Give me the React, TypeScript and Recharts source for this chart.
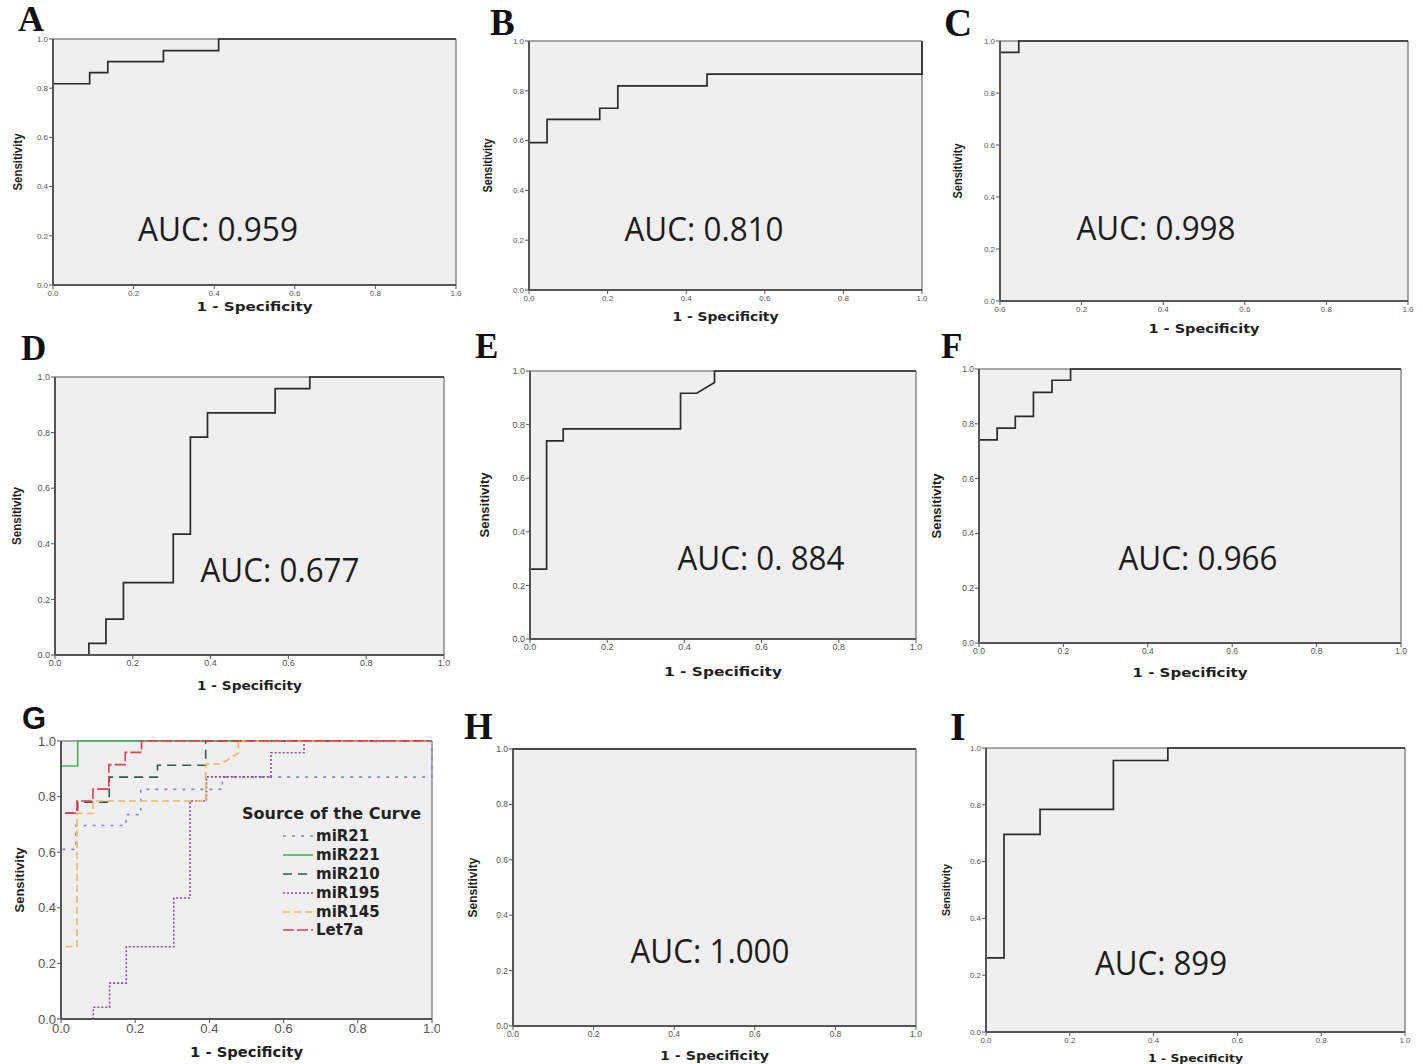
import React from 'react';
import { LineChart, Line, XAxis, YAxis, CartesianGrid, ReferenceLine, Legend } from 'recharts';

// ---------- data (ROC curve corner points: 1 - specificity, sensitivity) ----------
const AXIS_TICKS = [0, 0.2, 0.4, 0.6, 0.8, 1.0];

const A_FPR = [0, 0, 0.091, 0.091, 0.136, 0.136, 0.274, 0.274, 0.411, 0.411, 1];
const A_TPR = [0, 0.818, 0.818, 0.863, 0.863, 0.908, 0.908, 0.953, 0.953, 1, 1];

const B_FPR = [0, 0, 0.046, 0.046, 0.18, 0.18, 0.226, 0.226, 0.453, 0.453, 1, 1];
const B_TPR = [0, 0.592, 0.592, 0.685, 0.685, 0.73, 0.73, 0.82, 0.82, 0.867, 0.867, 1];

const C_FPR = [0, 0, 0.046, 0.046, 1];
const C_TPR = [0, 0.956, 0.956, 1, 1];

const D_FPR = [0, 0.087, 0.087, 0.131, 0.131, 0.176, 0.176, 0.304, 0.304, 0.348, 0.348, 0.392, 0.392, 0.566, 0.566, 0.655, 0.655, 1];
const D_TPR = [0, 0, 0.042, 0.042, 0.129, 0.129, 0.26, 0.26, 0.435, 0.435, 0.784, 0.784, 0.871, 0.871, 0.958, 0.958, 1, 1];

const E_FPR = [0, 0, 0.043, 0.043, 0.086, 0.086, 0.39, 0.39, 0.432, 0.478, 0.478, 1];
const E_TPR = [0, 0.261, 0.261, 0.739, 0.739, 0.784, 0.784, 0.917, 0.917, 0.957, 1, 1];

const F_FPR = [0, 0, 0.043, 0.043, 0.086, 0.086, 0.129, 0.129, 0.173, 0.173, 0.217, 0.217, 1];
const F_TPR = [0, 0.741, 0.741, 0.784, 0.784, 0.827, 0.827, 0.915, 0.915, 0.959, 0.959, 1, 1];

const H_FPR = [0, 0, 1];
const H_TPR = [0, 1, 1];

const I_FPR = [0, 0, 0.043, 0.043, 0.129, 0.129, 0.304, 0.304, 0.434, 0.434, 1];
const I_TPR = [0, 0.261, 0.261, 0.696, 0.696, 0.784, 0.784, 0.956, 0.956, 1, 1];

// panel G (combined)
const G_MIR21_FPR = [0, 0, 0.04, 0.04, 0.175, 0.175, 0.215, 0.215, 0.435, 0.435, 1, 1];
const G_MIR21_TPR = [0, 0.61, 0.61, 0.696, 0.696, 0.735, 0.735, 0.826, 0.826, 0.87, 0.87, 1];
const G_MIR221_FPR = [0, 0, 0.045, 0.045, 1];
const G_MIR221_TPR = [0, 0.91, 0.91, 1, 1];
const G_MIR210_FPR = [0, 0, 0.045, 0.045, 0.13, 0.13, 0.26, 0.26, 0.39, 0.39, 1];
const G_MIR210_TPR = [0, 0.74, 0.74, 0.78, 0.78, 0.87, 0.87, 0.913, 0.913, 1, 1];
const G_MIR195_FPR = D_FPR;
const G_MIR195_TPR = D_TPR;
const G_MIR145_FPR = E_FPR;
const G_MIR145_TPR = E_TPR;
const G_LET7A_FPR = F_FPR;
const G_LET7A_TPR = F_TPR;

const G_SERIES_NAMES = ['miR21', 'miR221', 'miR210', 'miR195', 'miR145', 'Let7a'];

const AUC_TEXTS = ['AUC: 0.959', 'AUC: 0.810', 'AUC: 0.998', 'AUC: 0.677', 'AUC: 0. 884', 'AUC: 0.966', 'AUC: 1.000', 'AUC: 899'];
const PANEL_LETTERS = ['A', 'B', 'C', 'D', 'E', 'F', 'G', 'H', 'I'];

// ---------- styles ----------
const SERIES_STYLE: Record<string, { color: string; dash: string; width: number }> = {
  miR21: { color: '#7f88c6', dash: '3 6', width: 1.6 },
  miR221: { color: '#4fb25a', dash: '', width: 1.6 },
  miR210: { color: '#36594a', dash: '9 6', width: 1.6 },
  miR195: { color: '#8e4a9e', dash: '2 2', width: 1.6 },
  miR145: { color: '#f3b45c', dash: '7 4', width: 1.6 },
  Let7a: { color: '#e6404c', dash: '11 3', width: 1.6 },
};

const toPoints = (fpr: number[], tpr: number[]) => fpr.map((x, i) => ({ x, y: tpr[i] }));

type Curve = { name: string; fpr: number[]; tpr: number[]; color: string; dash: string; width: number };

type PanelCfg = {
  L: number; R: number; T: number; B: number;
  tickFont: number;
  xTitleOff: number; xTitleLen: number; xTitleSize: number;
  yTitleOff: number; yTitleLen: number; yTitleSize: number;
  curves: Curve[];
  legend?: { left: number; top: number };
};

const blackCurve = (name: string, fpr: number[], tpr: number[]): Curve => ({ name, fpr, tpr, color: '#2b2b2b', dash: '', width: 1.7 });

const gCurves: Curve[] = [
  [G_MIR21_FPR, G_MIR21_TPR],
  [G_MIR221_FPR, G_MIR221_TPR],
  [G_MIR210_FPR, G_MIR210_TPR],
  [G_MIR195_FPR, G_MIR195_TPR],
  [G_MIR145_FPR, G_MIR145_TPR],
  [G_LET7A_FPR, G_LET7A_TPR],
].map(([f, t], i) => {
  const name = G_SERIES_NAMES[i];
  const st = SERIES_STYLE[name];
  return { name, fpr: f, tpr: t, color: st.color, dash: st.dash, width: st.width };
});

const PANELS: PanelCfg[] = [
  { L: 53, R: 456, T: 39, B: 285, tickFont: 8, xTitleOff: 26, xTitleLen: 116, xTitleSize: 12, yTitleOff: -31, yTitleLen: 57, yTitleSize: 12, curves: [blackCurve('A', A_FPR, A_TPR)] },
  { L: 529, R: 922, T: 41, B: 290, tickFont: 8, xTitleOff: 31, xTitleLen: 106, xTitleSize: 12, yTitleOff: -37, yTitleLen: 54, yTitleSize: 12, curves: [blackCurve('B', B_FPR, B_TPR)] },
  { L: 1000, R: 1408, T: 41, B: 301, tickFont: 8, xTitleOff: 32, xTitleLen: 111, xTitleSize: 12, yTitleOff: -38, yTitleLen: 55, yTitleSize: 12, curves: [blackCurve('C', C_FPR, C_TPR)] },
  { L: 55, R: 444, T: 377, B: 655, tickFont: 9, xTitleOff: 35, xTitleLen: 105, xTitleSize: 12, yTitleOff: -34, yTitleLen: 58, yTitleSize: 12, curves: [blackCurve('D', D_FPR, D_TPR)] },
  { L: 530, R: 916, T: 371, B: 639, tickFont: 9, xTitleOff: 37, xTitleLen: 118, xTitleSize: 12, yTitleOff: -41, yTitleLen: 65, yTitleSize: 13, curves: [blackCurve('E', E_FPR, E_TPR)] },
  { L: 979, R: 1401, T: 369, B: 643, tickFont: 8.5, xTitleOff: 34, xTitleLen: 115, xTitleSize: 12, yTitleOff: -38, yTitleLen: 65, yTitleSize: 13, curves: [blackCurve('F', F_FPR, F_TPR)] },
  { L: 61, R: 432, T: 741, B: 1019, tickFont: 13, xTitleOff: 38, xTitleLen: 113, xTitleSize: 14, yTitleOff: -37, yTitleLen: 65, yTitleSize: 13, curves: gCurves, legend: { left: 242, top: 804 } },
  { L: 513, R: 916, T: 749, B: 1026, tickFont: 8.5, xTitleOff: 34, xTitleLen: 109, xTitleSize: 12, yTitleOff: -36, yTitleLen: 60, yTitleSize: 12, curves: [blackCurve('H', H_FPR, H_TPR)] },
  { L: 986, R: 1405, T: 748, B: 1032, tickFont: 8, xTitleOff: 30, xTitleLen: 95, xTitleSize: 11, yTitleOff: -36, yTitleLen: 52, yTitleSize: 11, curves: [blackCurve('I', I_FPR, I_TPR)] },
];

// annotation layout (page coordinates)
const AUC_POS = [
  { cx: 218, base: 240.5, len: 160 },
  { cx: 704, base: 240.5, len: 159 },
  { cx: 1156, base: 240, len: 159 },
  { cx: 280, base: 581.5, len: 159 },
  { cx: 761, base: 569.5, len: 167 },
  { cx: 1198, base: 569.5, len: 159 },
  { cx: 710, base: 963, len: 159 },
  { cx: 1161, base: 975, len: 132 },
];
const AUC_PANEL_IDX = [0, 1, 2, 3, 4, 5, 7, 8];

const LETTER_POS = [
  { x: 18, base: 31, size: 36, serif: true },
  { x: 490, base: 35, size: 37, serif: true },
  { x: 944, base: 36, size: 39, serif: true },
  { x: 21, base: 360, size: 35, serif: true },
  { x: 475, base: 358, size: 35, serif: true },
  { x: 941, base: 358, size: 35, serif: true },
  { x: 22, base: 729, size: 31, serif: false },
  { x: 464, base: 739, size: 37, serif: true },
  { x: 950, base: 739.5, size: 40, serif: true },
];

const ML = 62, MT = 8, MR = 8, XH = 46;

const fmt = (v: number) => v.toFixed(1);

function GLegend(props: any) {
  const raw: any[] = props.payload || [];
  const payload = [...raw].sort((a, b) => G_SERIES_NAMES.indexOf(a.value) - G_SERIES_NAMES.indexOf(b.value));
  return (
    <div style={{ fontFamily: '"DejaVu Sans", Verdana, sans-serif', fontWeight: 'bold', color: '#222', width: 200 }}>
      <div style={{ fontSize: 16, height: 23, lineHeight: '20px', whiteSpace: 'nowrap' }}>Source of the Curve</div>
      {payload.map((entry: any) => {
        const st = SERIES_STYLE[entry.value] || { color: entry.color, dash: '', width: 1.6 };
        return (
          <div key={entry.value} style={{ height: 18.8, display: 'flex', alignItems: 'center', paddingLeft: 41 }}>
            <svg width={30} height={10} style={{ display: 'block' }}>
              <line x1={0} y1={5} x2={30} y2={5} stroke={st.color} strokeWidth={st.width} strokeDasharray={st.dash || undefined} />
            </svg>
            <span style={{ marginLeft: 3, fontSize: 15, lineHeight: '18px', whiteSpace: 'nowrap' }}>{entry.value}</span>
          </div>
        );
      })}
    </div>
  );
}

function RocPanel({ cfg }: { cfg: PanelCfg }) {
  const w = cfg.R - cfg.L + ML + MR;
  const h = cfg.B - cfg.T + MT + XH;
  const left = cfg.L - ML;
  const top = cfg.T - MT;
  const tick = { fill: '#555', fontSize: cfg.tickFont, fontFamily: '"Liberation Sans", Arial, sans-serif' };
  const xTitle = (p: any) => {
    const vb = p.viewBox || {};
    return (
      <text x={vb.x + vb.width / 2} y={vb.y + cfg.xTitleOff} textAnchor="middle" fill="#1e1e1e"
        fontFamily='"DejaVu Sans", Verdana, sans-serif' fontWeight="bold" fontSize={cfg.xTitleSize}
        textLength={cfg.xTitleLen} lengthAdjust="spacingAndGlyphs">1 - Specificity</text>
    );
  };
  const yTitle = (p: any) => {
    const vb = p.viewBox || {};
    const px = vb.x + vb.width + cfg.yTitleOff;
    const py = vb.y + vb.height / 2;
    return (
      <text x={px} y={py} transform={`rotate(-90 ${px} ${py})`} textAnchor="middle" fill="#1e1e1e"
        fontFamily='"Liberation Sans", Arial, sans-serif' fontWeight="bold" fontSize={cfg.yTitleSize}
        textLength={cfg.yTitleLen} lengthAdjust="spacingAndGlyphs">Sensitivity</text>
    );
  };
  return (
    <div style={{ position: 'absolute', left, top, width: w, height: h }}>
      <LineChart width={w} height={h} margin={{ top: MT, right: MR, bottom: 0, left: 0 }}>
        <CartesianGrid fill="#efefef" fillOpacity={1} horizontal={false} vertical={false} />
        <XAxis type="number" dataKey="x" domain={[0, 1]} ticks={AXIS_TICKS} tickFormatter={fmt} height={XH}
          axisLine={{ stroke: '#555', strokeWidth: 2 }} tickLine={{ stroke: '#555', strokeWidth: 1 }} tickSize={4} tickMargin={1}
          tick={tick} interval={0} label={xTitle} />
        <YAxis type="number" dataKey="y" domain={[0, 1]} ticks={AXIS_TICKS} tickFormatter={fmt} width={ML}
          axisLine={{ stroke: '#555', strokeWidth: 2 }} tickLine={{ stroke: '#555', strokeWidth: 1 }} tickSize={4} tickMargin={1}
          tick={tick} interval={0} label={yTitle} />
        <ReferenceLine y={1} stroke="#8a8a8a" strokeWidth={1.5} />
        <ReferenceLine x={1} stroke="#8a8a8a" strokeWidth={1.5} />
        {cfg.curves.map((c) => (
          <Line key={c.name} name={c.name} data={toPoints(c.fpr, c.tpr)} dataKey="y" type="linear" dot={false}
            activeDot={false} stroke={c.color} strokeWidth={c.width} strokeDasharray={c.dash || undefined}
            isAnimationActive={false} legendType="line" />
        ))}
        {cfg.legend && (
          <Legend layout="vertical" align="center" verticalAlign="middle" content={GLegend}
            wrapperStyle={{ left: cfg.legend.left - left, top: cfg.legend.top - top, width: 200 }} />
        )}
      </LineChart>
    </div>
  );
}

export default function App() {
  return (
    <div style={{ position: 'absolute', left: 0, top: 0, width: 1423, height: 1064, background: '#fff', overflow: 'hidden' }}>
      {PANELS.map((p, i) => <RocPanel key={i} cfg={p} />)}
      <svg width={1423} height={1064} style={{ position: 'absolute', left: 0, top: 0, pointerEvents: 'none' }}>
        {PANEL_LETTERS.map((l, i) => {
          const lp = LETTER_POS[i];
          return (
            <text key={l} x={lp.x} y={lp.base} fontSize={lp.size} fontWeight="bold" fill="#111"
              fontFamily={lp.serif ? '"Liberation Serif", "Times New Roman", serif' : '"Liberation Sans", Arial, sans-serif'}>{l}</text>
          );
        })}
        {AUC_TEXTS.map((t, i) => {
          const ap = AUC_POS[i];
          return (
            <text key={AUC_PANEL_IDX[i]} x={ap.cx} y={ap.base} textAnchor="middle" fontSize={33} fill="#1c1c1c"
              fontFamily='"Open Sans", "Noto Sans", sans-serif' textLength={ap.len} lengthAdjust="spacingAndGlyphs">{t}</text>
          );
        })}
      </svg>
    </div>
  );
}
